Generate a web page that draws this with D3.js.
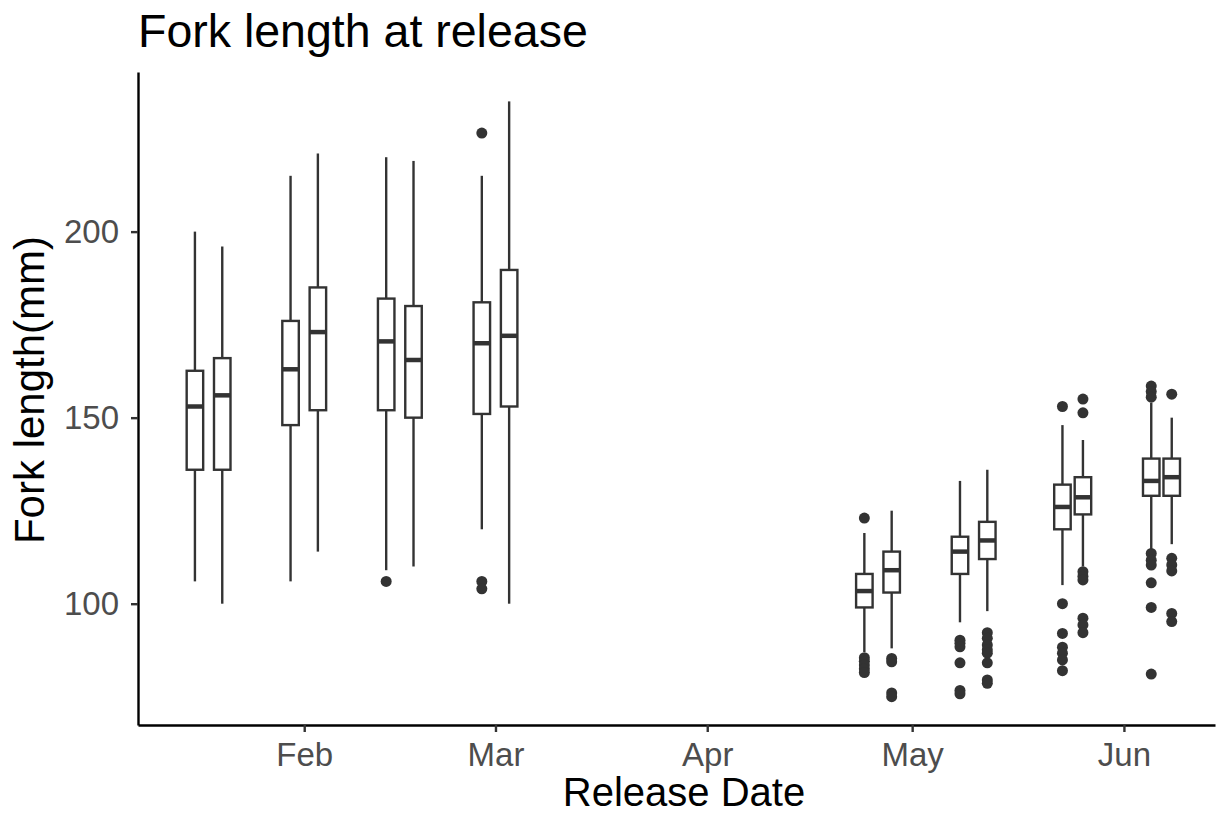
<!DOCTYPE html>
<html>
<head>
<meta charset="utf-8">
<script src="https://cdn.jsdelivr.net/npm/d3@7"></script>
<style>
  body { margin: 0; background: #fff; }
  svg { display: block; font-family: "Liberation Sans", Arial, sans-serif; }
</style>
</head>
<body>
<svg id="chart" width="1217" height="815"></svg>
<script>
    // Release dates (one box per date)
    const releaseDates = ["2019-01-16", "2019-01-20", "2019-01-30", "2019-02-03",
                          "2019-02-13", "2019-02-17", "2019-02-27", "2019-03-03",
                          "2019-04-24", "2019-04-28", "2019-05-08", "2019-05-12",
                          "2019-05-23", "2019-05-26", "2019-06-05", "2019-06-08"];

    // Box statistics (mm)
    const whiskerLow  = [106, 100, 106, 114, 109, 110, 120, 100,  87,  88,  95,  98, 105, 110, 114, 116];
    const q1          = [136, 136, 148, 152, 152, 150, 151, 153,  99, 103, 108, 112, 120, 124, 129, 129];
    const median      = [153, 156, 163, 173, 170.5, 165.5, 170, 172, 103.4, 109, 114, 117, 126, 128.6, 133, 134];
    const q3          = [162.6, 166, 176, 185, 182, 180, 181, 189.7, 108, 114, 118, 122, 132, 134, 139, 139];
    const whiskerHigh = [200, 196, 215, 221, 220, 219, 215, 235, 119, 125, 133, 136, 148, 144, 154, 150];

    // Outlying points per box
    const outliers = [
        [], [], [], [],
        [106], [], [226.5, 106, 104], [],
        [123, 85.5, 84.5, 83.5, 82.5, 81.5], [85.3, 84.4, 76, 75],
        [90.2, 89.4, 88.4, 84.1, 76.7, 75.8], [92.2, 90.7, 88.9, 87.6, 86.7, 84.1, 79.5, 78.6],
        [153, 100, 92, 88.3, 86.7, 84.9, 82], [155, 151.3, 108.6, 107.4, 106.4, 96.1, 94.3, 92.2],
        [158.5, 157, 155.5, 113.5, 111.7, 110.4, 105.6, 99, 81.1], [156.3, 112.2, 110.4, 108.8, 97.4, 95.2]
    ];

    const xDomain = ["2019-01-07T16:00", "2019-06-14T08:00"];
    const yDomain = [67.4, 242.9];
    const yTicks = [100, 150, 200];

    const margin = { top: 72, right: 2, bottom: 90, left: 138 };
    const width = 1217 - margin.left - margin.right;
    const height = 815 - margin.top - margin.bottom;
    const boxWidth = 16.5;

    const parse = d3.timeParse("%Y-%m-%d");
    const parseT = d3.timeParse("%Y-%m-%dT%H:%M");

    const boxes = releaseDates.map((d, i) => ({
        date: parse(d),
        lo: whiskerLow[i], q1: q1[i], med: median[i], q3: q3[i], hi: whiskerHigh[i],
        out: outliers[i]
    }));

    const x = d3.scaleTime()
        .domain(xDomain.map(parseT))
        .range([0, width]);

    const y = d3.scaleLinear()
        .domain(yDomain)
        .range([height, 0]);

    const svg = d3.select("#chart");
    const g = svg.append("g")
        .attr("transform", `translate(${margin.left},${margin.top})`);

    // Boxes
    const box = g.append("g")
        .attr("stroke", "#333")
        .attr("fill", "#fff")
      .selectAll("g")
      .data(boxes)
      .join("g")
        .attr("transform", d => `translate(${x(d.date)},0)`);

    box.append("line")
        .attr("y1", d => y(d.hi))
        .attr("y2", d => y(d.q3))
        .attr("stroke-width", 2.4);

    box.append("line")
        .attr("y1", d => y(d.q1))
        .attr("y2", d => y(d.lo))
        .attr("stroke-width", 2.4);

    box.append("rect")
        .attr("x", -boxWidth / 2)
        .attr("width", boxWidth)
        .attr("y", d => y(d.q3))
        .attr("height", d => y(d.q1) - y(d.q3))
        .attr("stroke-width", 2.4);

    box.append("line")
        .attr("x1", -boxWidth / 2)
        .attr("x2", boxWidth / 2)
        .attr("y1", d => y(d.med))
        .attr("y2", d => y(d.med))
        .attr("stroke-width", 4.5);

    box.selectAll("circle")
      .data(d => d.out)
      .join("circle")
        .attr("cy", d => y(d))
        .attr("r", 5.5)
        .attr("fill", "#333")
        .attr("stroke", "none");

    // Axes
    const xAxis = g.append("g")
        .attr("transform", `translate(0,${height})`)
        .call(d3.axisBottom(x)
            .ticks(d3.timeMonth.every(1))
            .tickFormat(d3.timeFormat("%b"))
            .tickSize(7)
            .tickSizeOuter(0)
            .tickPadding(11));

    const yAxis = g.append("g")
        .call(d3.axisLeft(y)
            .tickValues(yTicks)
            .tickSize(7)
            .tickSizeOuter(0)
            .tickPadding(12));

    [xAxis, yAxis].forEach(a => {
        a.select(".domain").attr("stroke", "#000").attr("stroke-width", 2.4);
        a.selectAll(".tick line").attr("stroke", "#333").attr("stroke-width", 2.4);
        a.selectAll(".tick text")
            .attr("fill", "#4d4d4d")
            .style("font-size", "33px")
            .style("font-family", "Liberation Sans, Arial, sans-serif");
    });

    // Titles
    svg.append("text")
        .attr("x", margin.left)
        .attr("y", 47)
        .attr("fill", "#000")
        .style("font-size", "46.5px")
        .text("Fork length at release");

    svg.append("text")
        .attr("x", 684)
        .attr("y", 806)
        .attr("text-anchor", "middle")
        .attr("fill", "#000")
        .style("font-size", "40px")
        .text("Release Date");

    svg.append("text")
        .attr("transform", `translate(44,390) rotate(-90)`)
        .attr("text-anchor", "middle")
        .attr("fill", "#000")
        .style("font-size", "42px")
        .text("Fork length(mm)");
</script>
</body>
</html>
